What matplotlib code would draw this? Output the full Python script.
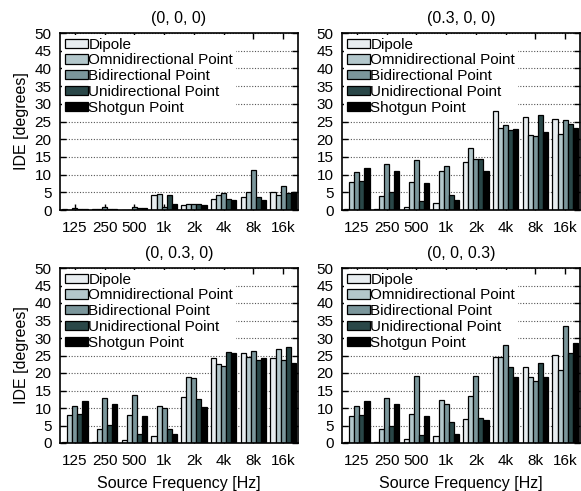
import matplotlib.pyplot as plt
import numpy as np

plt.rcParams['font.family'] = ['Liberation Sans', 'DejaVu Sans']

freqs = ['125', '250', '500', '1k', '2k', '4k', '8k', '16k']
series = ['Dipole', 'Omnidirectional Point', 'Bidirectional Point',
          'Unidirectional Point', 'Shotgun Point']
colors = ['#e8edf0', '#b3c7cb', '#7b969b', '#2a4748', '#000000']

titles = ['(0, 0, 0)', '(0.3, 0, 0)', '(0, 0.3, 0)', '(0, 0, 0.3)']

# rows = series (Dipole, Omni, Bi, Uni, Shotgun), columns = freqs
ide_000 = [
    [0.2, 0.2, 0.1, 4.3, 1.5, 3.2, 3.8, 5.2],
    [0.1, 0.2, 0.1, 4.6, 1.8, 4.1, 5.0, 4.2],
    [0.7, 0.8, 0.8, 0.8, 1.8, 4.8, 11.4, 6.9],
    [0.3, 0.4, 0.5, 4.2, 1.6, 3.1, 3.8, 4.9],
    [0.4, 0.3, 0.7, 1.7, 1.3, 2.8, 2.7, 5.1],
]
ide_300 = [
    [0.2, 0.2, 0.9, 1.9, 13.6, 27.9, 26.3, 25.6],
    [7.8, 4.0, 8.0, 11.1, 17.4, 23.2, 21.3, 21.6],
    [10.7, 13.0, 14.0, 12.3, 14.3, 24.1, 20.9, 25.4],
    [8.2, 5.1, 2.6, 4.1, 14.3, 22.7, 26.8, 24.2],
    [12.0, 11.1, 7.6, 2.7, 10.9, 22.9, 22.0, 23.2],
]
ide_030 = [
    [0.3, 0.3, 0.9, 1.9, 13.2, 24.4, 25.8, 24.3],
    [7.9, 4.0, 8.0, 10.5, 18.9, 22.6, 24.6, 26.9],
    [10.7, 13.0, 13.6, 10.1, 18.5, 22.1, 26.2, 23.8],
    [8.3, 5.1, 2.5, 4.0, 12.7, 26.1, 23.6, 27.4],
    [12.0, 11.1, 7.7, 2.7, 10.4, 25.6, 24.4, 22.8],
]
ide_003 = [
    [0.4, 0.4, 1.1, 1.9, 7.0, 24.6, 21.8, 25.1],
    [7.7, 4.0, 8.4, 12.4, 13.3, 24.6, 19.0, 21.0],
    [10.7, 13.0, 19.1, 11.1, 19.1, 28.1, 17.6, 33.3],
    [8.1, 5.0, 2.4, 6.1, 7.1, 21.8, 23.0, 25.7],
    [12.0, 11.1, 7.7, 2.5, 6.6, 18.8, 18.8, 28.5],
]
panels = [ide_000, ide_300, ide_030, ide_003]

W, H = 581, 491
fig = plt.figure(figsize=(W / 100, H / 100), dpi=100)

boxes = [
    (60, 33, 298, 210),
    (342, 33, 580, 210),
    (60, 268, 298, 443),
    (342, 268, 580, 443),
]

x = np.arange(len(freqs))
bw = 0.17
fs = 11

for i, (data, title, (l, t, r, b)) in enumerate(zip(panels, titles, boxes)):
    ax = fig.add_axes([l / W, 1 - b / H, (r - l) / W, (b - t) / H])
    for k, (name, vals) in enumerate(zip(series, data)):
        ax.bar(x + (k - 2) * bw, vals, bw, color=colors[k], edgecolor='black',
               linewidth=0.9, label=name, zorder=2)
    ax.set_xlim(-0.5, 7.5)
    ax.set_ylim(0, 50)
    ax.set_yticks(range(0, 51, 5))
    ax.set_xticks(x)
    ax.set_xticklabels(freqs)
    ax.yaxis.grid(True, linestyle=(0, (1, 1.5)), color='#555555', linewidth=0.8)
    ax.set_axisbelow(True)
    ax.tick_params(axis='both', direction='in', labelsize=fs, length=4,
                   width=1, top=True, right=True)
    ax.tick_params(axis='y', pad=6)
    ax.tick_params(axis='x', pad=8)
    for s in ax.spines.values():
        s.set_linewidth(1.2)
    ax.set_title(title, fontsize=11.5, pad=7)
    if i % 2 == 0:
        ax.set_ylabel('IDE [degrees]', fontsize=11.5, labelpad=4)
    if i >= 2:
        ax.set_xlabel('Source Frequency [Hz]', fontsize=11.5, labelpad=6)
    leg = ax.legend(loc='upper left', fontsize=fs, frameon=True,
                    fancybox=False, edgecolor='none', facecolor='white',
                    framealpha=1, borderaxespad=0.1, borderpad=0.2,
                    handlelength=1.5, handleheight=0.55, handletextpad=0.05,
                    labelspacing=0.12)
    leg.set_zorder(1)

fig.savefig('out.png', dpi=100)
